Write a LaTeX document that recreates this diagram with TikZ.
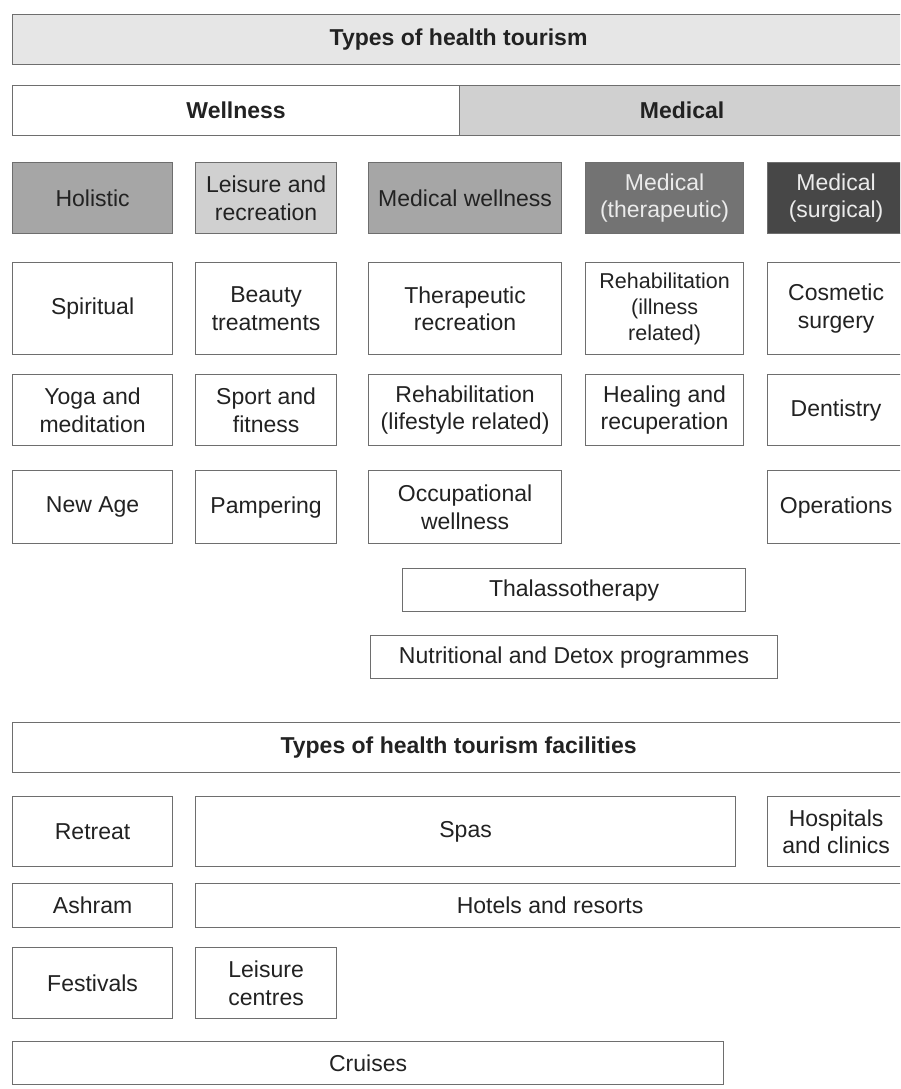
\documentclass[tikz,border=0pt]{standalone}
\usepackage{fontspec}
\setmainfont{Liberation Sans}
\definecolor{bord}{HTML}{6E6E6E}
\definecolor{gA}{HTML}{E6E6E6}
\definecolor{gB}{HTML}{D0D0D0}
\definecolor{gC}{HTML}{A6A6A6}
\definecolor{gD}{HTML}{737373}
\definecolor{gE}{HTML}{474747}
\definecolor{txt}{HTML}{222222}
\newcommand\bx[7]{\node[cell,#6,minimum width={(#4)-(#2)},minimum height={(#5)-(#3)},anchor=north west] (#1) at (#2,#3) {#7};}
\begin{document}
\begin{tikzpicture}[x=1pt,y=-1pt,
  cell/.style={draw=bord,line width=1.2pt,fill=white,inner sep=0pt,align=center,
    text=txt,font=\fontsize{23}{27.5}\selectfont},
  hdr/.style={font=\bfseries\fontsize{23}{27.5}\selectfont},
  small/.style={font=\fontsize{21.5}{26}\selectfont},
  lightA/.style={fill=gA},
  lightB/.style={fill=gB},
  midC/.style={fill=gC},
  darkD/.style={fill=gD,text=white!92!black},
  darkE/.style={fill=gE,text=white!92!black}]
\clip (0,0) rectangle (900,1089);
\fill[white] (0,0) rectangle (900,1089);
% headers
\bx{types}{12}{14}{904}{64}{hdr,lightA}{Types of health tourism}
\bx{well}{12}{85}{459}{135}{hdr}{Wellness}
\bx{med}{459}{85}{904}{135}{hdr,lightB}{Medical}
% categories
\bx{hol}{12}{162}{172}{233}{midC}{Holistic}
\bx{leis}{195}{162}{336}{233}{lightB}{Leisure and\\recreation}
\bx{mw}{368}{162}{561}{233}{midC}{Medical wellness}
\bx{mt}{585}{162}{743}{233}{darkD}{Medical\\(therapeutic)}
\bx{ms}{767}{162}{904}{233}{darkE}{Medical\\(surgical)}
% row 4
\bx{spir}{12}{262}{172}{354}{}{Spiritual}
\bx{beau}{195}{262}{336}{354}{}{Beauty\\treatments}
\bx{ther}{368}{262}{561}{354}{}{Therapeutic\\recreation}
\bx{rehi}{585}{262}{743}{354}{small}{Rehabilitation\\(illness\\related)}
\bx{cosm}{767}{262}{904}{354}{}{Cosmetic\\surgery}
% row 5
\bx{yoga}{12}{374}{172}{445}{}{Yoga and\\meditation}
\bx{sport}{195}{374}{336}{445}{}{Sport and\\fitness}
\bx{rehl}{368}{374}{561}{445}{}{Rehabilitation\\(lifestyle related)}
\bx{heal}{585}{374}{743}{445}{}{Healing and\\recuperation}
\bx{dent}{767}{374}{904}{445}{}{Dentistry}
% row 6
\bx{newage}{12}{470}{172}{543}{}{New Age}
\bx{pamp}{195}{470}{336}{543}{}{Pampering}
\bx{occ}{368}{470}{561}{543}{}{Occupational\\wellness}
\bx{oper}{767}{470}{904}{543}{}{Operations}
% extra
\bx{thal}{402}{568}{745}{611}{}{Thalassotherapy}
\bx{nutr}{370}{635}{777}{678}{}{Nutritional and Detox programmes}
% facilities
\bx{fac}{12}{722}{904}{772}{hdr}{Types of health tourism facilities}
\bx{retr}{12}{796}{172}{866}{}{Retreat}
\bx{spas}{195}{796}{735}{866}{}{Spas}
\bx{hosp}{767}{796}{904}{866}{}{Hospitals\\and clinics}
\bx{ashr}{12}{883}{172}{927}{}{Ashram}
\bx{hot}{195}{883}{904}{927}{}{Hotels and resorts}
\bx{fest}{12}{947}{172}{1018}{}{Festivals}
\bx{lcen}{195}{947}{336}{1018}{}{Leisure\\centres}
\bx{cru}{12}{1041}{723}{1084}{}{Cruises}
\end{tikzpicture}
\end{document}
